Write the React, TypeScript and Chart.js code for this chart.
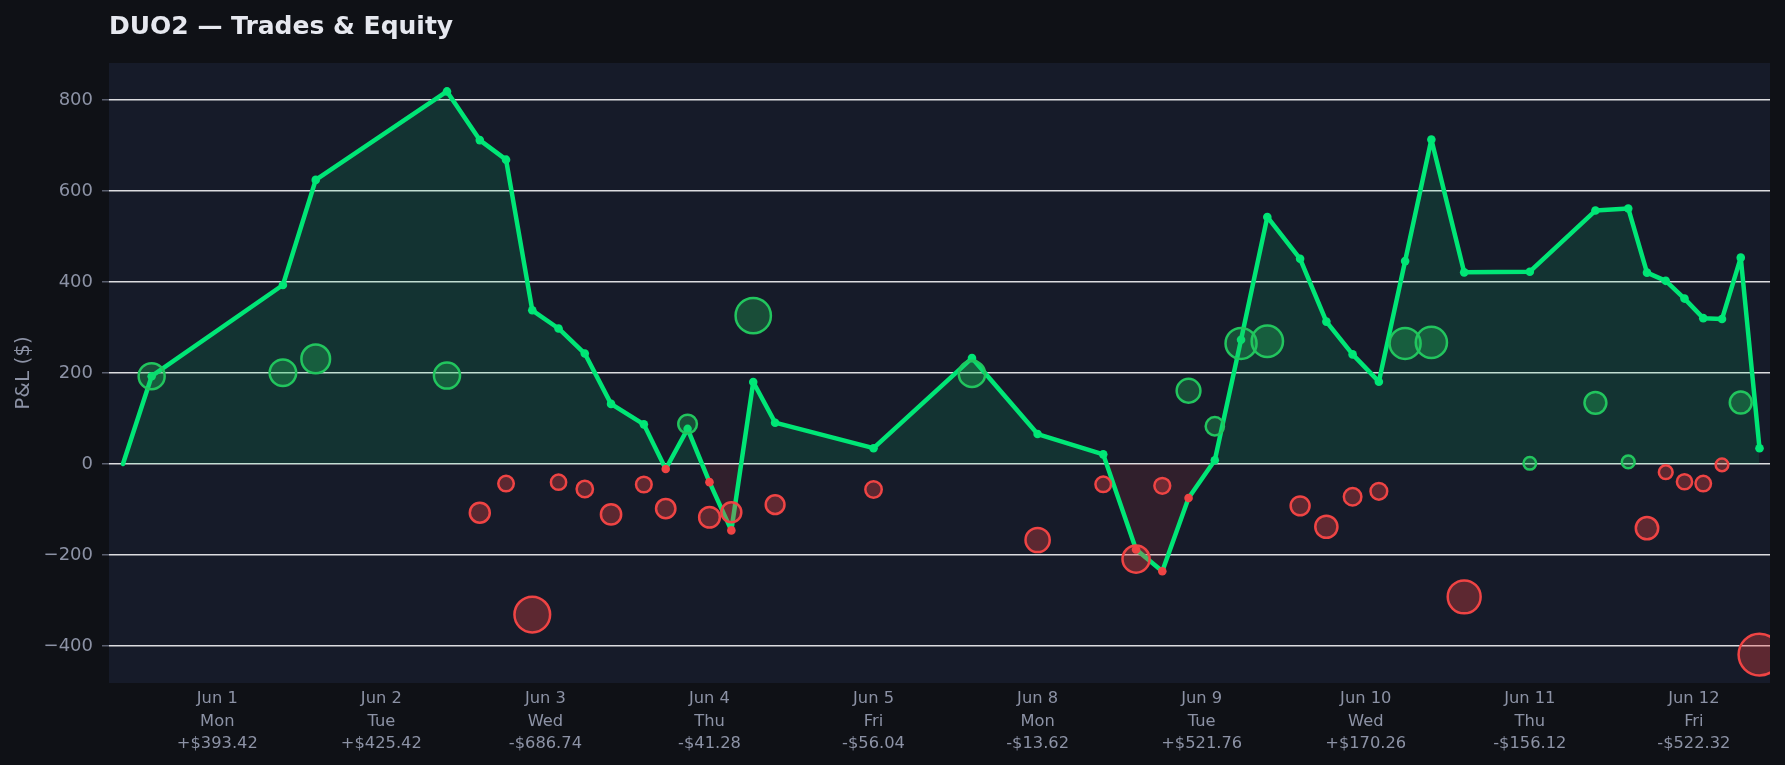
import React, { useEffect, useRef } from "react";
import { Chart, registerables } from "chart.js";

Chart.register(...registerables);

// ---- Data ----
const dayDates = ["Jun 1", "Jun 2", "Jun 3", "Jun 4", "Jun 5", "Jun 8", "Jun 9", "Jun 10", "Jun 11", "Jun 12"];
const dayNames = ["Mon", "Tue", "Wed", "Thu", "Fri", "Mon", "Tue", "Wed", "Thu", "Fri"];
const dayTotals = [393.42, 425.42, -686.74, -41.28, -56.04, -13.62, 521.76, 170.26, -156.12, -522.32];

// day index of each trade (0 = Jun 1 ... 9 = Jun 12)
const tradeDay = [
  0, 0,
  1, 1,
  2, 2, 2, 2, 2, 2,
  3, 3, 3, 3, 3, 3, 3,
  4,
  5, 5, 5,
  6, 6, 6, 6, 6, 6,
  7, 7, 7, 7, 7, 7,
  8, 8, 8,
  9, 9, 9, 9, 9, 9, 9, 9,
];
// P&L of each trade ($)
const tradePnl = [
  193, 200.42,
  231, 194.42,
  -107, -43, -331, -40, -55, -110.74,
  -45, -98, 88, -117, -106, 326, -89.28,
  -56.04,
  198, -167, -44.62,
  -209, -48, 161, 83, 265, 269.76,
  -92, -138, -72, -60, 265, 267.26,
  -292, 1.5, 134.38,
  4.5, -141, -18, -39, -43, -2, 135, -418.82,
];
const startEquity = 0;
const startTime = -0.575; // start of period, in day units

const yTicks = [-400, -200, 0, 200, 400, 600, 800];

// ---- Style ----
const FIG_BG = "#0f1116";
const PLOT_BG = "#161b29";
const TITLE_COLOR = "#e6e8ef";
const TICK_COLOR = "#8c92a5";
const GRID_COLOR = "#dcdde0";
const LINE_GREEN = "#00e676";
const DOT_RED = "#ef4444";
const WIN_EDGE = "#22c55e";
const WIN_FILL = "rgba(34,197,94,0.30)";
const LOSS_EDGE = "#ef4444";
const LOSS_FILL = "rgba(239,68,68,0.33)";
const FONT = '"DejaVu Sans", sans-serif';

function fmtMoney(v: number) {
  const s = "$" + Math.abs(v).toFixed(2);
  return (v >= 0 ? "+" : "-") + s;
}

export default function App() {
  const ref = useRef<HTMLCanvasElement>(null);

  useEffect(() => {
    document.body.style.margin = "0";
    document.body.style.background = FIG_BG;
    const canvas = ref.current!;

    // positions of trades inside each day band
    const perDay: number[] = dayDates.map((_, d) => tradeDay.filter((t) => t === d).length);
    const seen: number[] = dayDates.map(() => 0);
    const tradeX = tradeDay.map((d) => {
      const n = perDay[d];
      const i = seen[d]++;
      return n === 1 ? d : d - 0.4 + (0.8 * i) / (n - 1);
    });

    const equityPts: { x: number; y: number }[] = [{ x: startTime, y: startEquity }];
    let eq = startEquity;
    tradePnl.forEach((p, k) => {
      eq += p;
      equityPts.push({ x: tradeX[k], y: eq });
    });
    const ptColors = equityPts.map((p) => (p.y < 0 ? DOT_RED : LINE_GREEN));
    const ptRadius = equityPts.map((_, i) => (i === 0 ? 0 : 4.3));

    const bubblePts = tradePnl.map((p, k) => ({ x: tradeX[k], y: p, r: 6.25 + 0.035 * Math.abs(p) }));
    const bubbleFill = tradePnl.map((p) => (p > 0 ? WIN_FILL : LOSS_FILL));
    const bubbleEdge = tradePnl.map((p) => (p > 0 ? WIN_EDGE : LOSS_EDGE));

    const bgPlugin = {
      id: "bgAndTitle",
      beforeDraw(chart: any) {
        const { ctx, chartArea: a, width, height } = chart;
        ctx.save();
        ctx.fillStyle = FIG_BG;
        ctx.fillRect(0, 0, width, height);
        ctx.fillStyle = PLOT_BG;
        ctx.fillRect(a.left, a.top, a.right - a.left, a.bottom - a.top);
        ctx.font = `bold 25px ${FONT}`;
        ctx.fillStyle = TITLE_COLOR;
        ctx.textAlign = "left";
        ctx.textBaseline = "alphabetic";
        ctx.fillText("DUO2 — Trades & Equity", a.left, 34);
        ctx.restore();
      },
    };

    const chart = new Chart(canvas, {
      type: "line",
      data: {
        datasets: [
          {
            type: "bubble",
            data: bubblePts,
            backgroundColor: bubbleFill,
            borderColor: bubbleEdge,
            borderWidth: 2.5,
            order: 1,
            clip: 0,
          } as any,
          {
            type: "line",
            data: equityPts,
            borderColor: LINE_GREEN,
            borderWidth: 4.5,
            borderJoinStyle: "round",
            borderCapStyle: "round",
            tension: 0,
            fill: { target: { value: 0 }, above: "rgba(0,230,118,0.12)", below: "rgba(239,68,68,0.12)" },
            pointRadius: ptRadius,
            pointBackgroundColor: ptColors,
            pointBorderColor: ptColors,
            pointBorderWidth: 0,
            order: 2,
            clip: 0,
          } as any,
        ],
      },
      options: {
        responsive: false,
        animation: false,
        devicePixelRatio: 1,
        events: [],
        layout: { autoPadding: false, padding: { top: 63, right: 15, left: 0, bottom: 0 } },
        plugins: {
          legend: { display: false },
          tooltip: { enabled: false },
          title: { display: false },
        },
        scales: {
          x: {
            type: "linear",
            min: -0.66,
            max: 9.464,
            grid: { display: false, drawTicks: false },
            border: { display: false },
            afterBuildTicks: (s: any) => {
              s.ticks = dayDates.map((_, i) => ({ value: i }));
            },
            afterFit: (s: any) => {
              s.height = 82;
              s.paddingLeft = 0;
              s.paddingRight = 0;
            },
            ticks: {
              autoSkip: false,
              maxRotation: 0,
              padding: 5,
              color: TICK_COLOR,
              font: { family: FONT, size: 16.3, lineHeight: 1.38 },
              callback: (v: any) => {
                const i = Math.round(Number(v));
                return [dayDates[i], dayNames[i], fmtMoney(dayTotals[i])];
              },
            },
          },
          y: {
            type: "linear",
            min: -481.3,
            max: 881.3,
            afterBuildTicks: (s: any) => {
              s.ticks = yTicks.map((v) => ({ value: v }));
            },
            afterFit: (s: any) => {
              s.width = 109;
              s.paddingTop = 0;
              s.paddingBottom = 0;
            },
            grid: {
              color: GRID_COLOR,
              lineWidth: 1.5,
              drawTicks: true,
              tickLength: 7,
              tickColor: "#5a5f6e",
              tickWidth: 1.5,
            },
            border: { display: false },
            ticks: {
              padding: 9,
              color: TICK_COLOR,
              font: { family: FONT, size: 18 },
              callback: (v: any) => {
                const n = Number(v);
                return n < 0 ? "\u2212" + Math.abs(n) : String(n);
              },
            },
            title: {
              display: true,
              text: "P&L ($)",
              color: TICK_COLOR,
              font: { family: FONT, size: 20 },
              padding: { top: 12, bottom: 0 },
            },
          },
        },
      } as any,
      plugins: [bgPlugin],
    });

    return () => chart.destroy();
  }, []);

  return (
    <div style={{ width: 1785, height: 765 }}>
      <canvas ref={ref} width={1785} height={765} style={{ display: "block" }} />
    </div>
  );
}
